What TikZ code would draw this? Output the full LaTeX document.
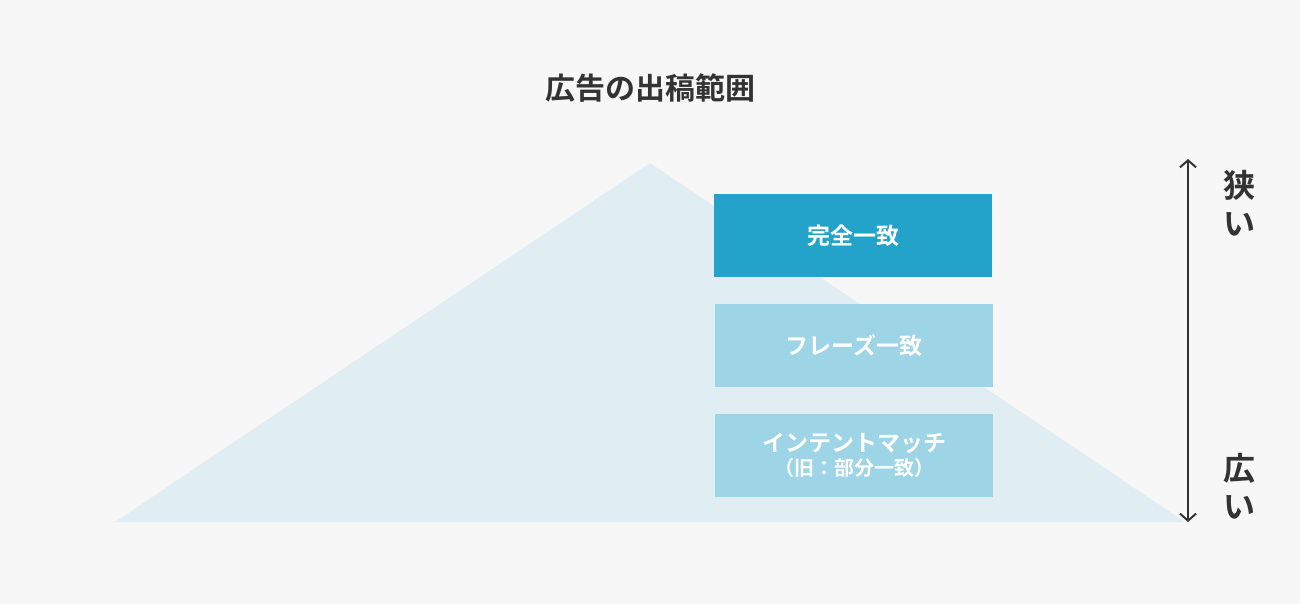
\documentclass[tikz,border=0pt]{standalone}
\usepackage{fontspec}
\newfontfamily\jp{Noto Sans CJK JP}[BoldFont={Noto Sans CJK JP Bold}]
\usetikzlibrary{arrows.meta}
\definecolor{bg}{HTML}{F7F7F7}
\definecolor{tri}{HTML}{E0EEF3}
\definecolor{dark}{HTML}{23A3CA}
\definecolor{light}{HTML}{9DD4E6}
\definecolor{txt}{HTML}{333333}
\tikzset{
  box/.style={draw=none,minimum width=278pt,minimum height=83pt,inner sep=0pt,text=white,font=\jp\bfseries\fontsize{23}{28}\selectfont,align=center},
  side/.style={text=txt,font=\jp\bfseries\fontsize{32}{38}\selectfont,align=center}
}
\begin{document}
\begin{tikzpicture}[x=1pt,y=-1pt]
\fill[bg] (0,0) rectangle (1300,604);
\useasboundingbox (0,0) rectangle (1300,604);
\fill[tri] (650,163) -- (1185,522) -- (115,522) -- cycle;
\node[text=txt,font=\jp\bfseries\fontsize{30}{36}\selectfont] (title) at (650,88) {広告の出稿範囲};
\node[box,fill=dark] (b1) at (853,235.5) {完全一致};
\node[box,fill=light] (b2) at (854,345.5) {フレーズ一致};
\node[box,fill=light] (b3) at (854,455.5) {インテントマッチ\\[-4pt]{\fontsize{20}{24}\selectfont （旧：部分一致）}};
\coordinate (top) at (1188,159);
\coordinate (bot) at (1188,522);
\draw[txt,line width=2pt,{Straight Barb[length=7pt,width=16pt]}-{Straight Barb[length=7pt,width=16pt]}] (top) -- (bot);
\node[side] (narrow) at (1239,203) {狭\\い};
\node[side] (wide) at (1239,486) {広\\い};
\end{tikzpicture}
\end{document}
